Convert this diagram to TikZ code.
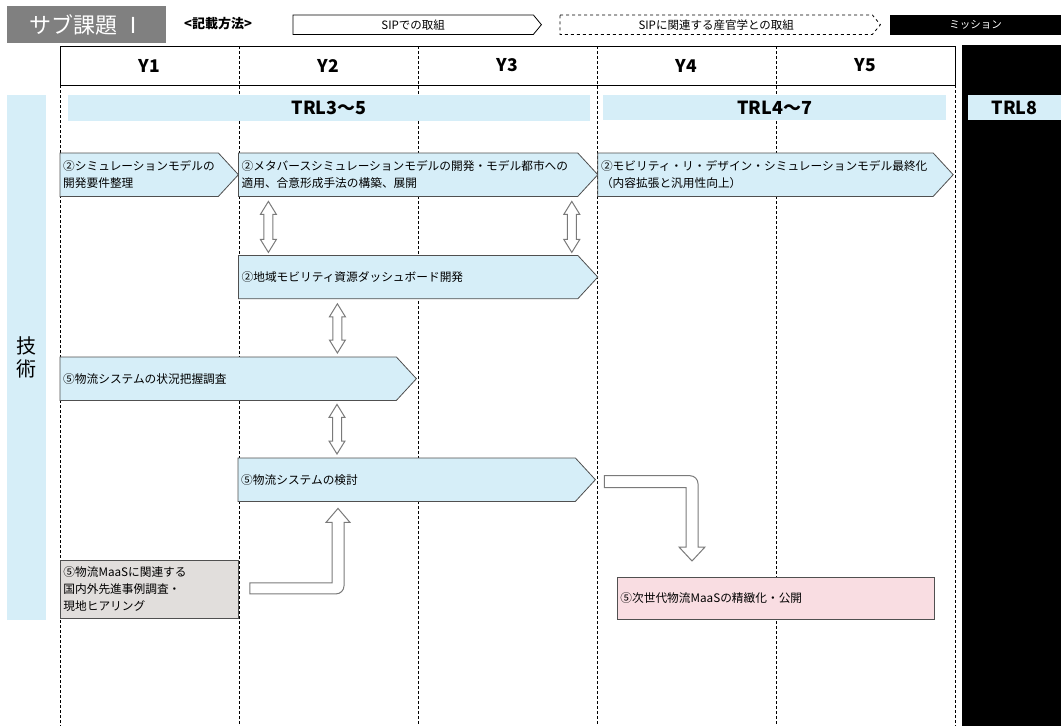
\documentclass[tikz,border=0pt]{standalone}
\usepackage{fontspec}
\setmainfont{Noto Sans CJK JP}
\usetikzlibrary{positioning, calc}

\definecolor{trlblue}{HTML}{D6EEF8}
\definecolor{maasgray}{HTML}{E1DEDC}
\definecolor{pinkbox}{HTML}{F9DDE2}
\definecolor{titlegray}{HTML}{808080}
\definecolor{edgegray}{HTML}{505050}
\definecolor{arrowgray}{HTML}{7A7A7A}

\pgfdeclarelayer{grid}
\pgfdeclarelayer{background}
\pgfsetlayers{grid,background,main}

\tikzset{
  every node/.style={font=\fontsize{11.7}{17}\selectfont, inner sep=0pt},
  stage/.style={rectangle, anchor=north west, text width=#1, minimum height=43pt, inner xsep=3pt, align=left},
  stageline/.style={fill=trlblue, draw=edgegray, line width=0.8pt},
  plainbox/.style={rectangle, anchor=north west, draw=edgegray, line width=0.8pt, inner xsep=3pt, align=left},
  blockarrow/.style={draw=arrowgray, fill=white, line width=1pt},
  gridline/.style={dash pattern=on 3pt off 2pt, line width=0.6pt},
  yearlabel/.style={font=\fontsize{17.5}{20}\selectfont\bfseries},
  trlbar/.style={fill=trlblue, anchor=north west, font=\fontsize{18}{20}\selectfont\bfseries},
  legend/.style={rectangle, anchor=north west, minimum height=19pt, font=\fontsize{11.5}{13}\selectfont},
}

% pentagon behind a node: name, pointer depth
\newcommand\pointed[3][]{%
  \path[stageline,#1] (#2.north west) -- (#2.north east) -- ([xshift=#3]#2.east)
    -- (#2.south east) -- (#2.south west) -- cycle;}

% hollow double arrow: upper tip, lower tip
\newcommand\dblarrow[2]{%
  \draw[blockarrow] let \p1=#1, \p2=#2 in
    (\x1,\y1) -- (\x1+8pt,\y1-13pt) -- (\x1+4.5pt,\y1-13pt) -- (\x1+4.5pt,\y2+13pt)
    -- (\x1+8pt,\y2+13pt) -- (\x1,\y2) -- (\x1-8pt,\y2+13pt) -- (\x1-4.5pt,\y2+13pt)
    -- (\x1-4.5pt,\y1-13pt) -- (\x1-8pt,\y1-13pt) -- cycle;}

% hollow bent arrow going right then up: tail, tip
\newcommand\bentup[2]{%
  \draw[blockarrow] let \p1=#1, \p2=#2 in
    (\x1,\y1+5.5pt) -- (\x2-6pt,\y1+5.5pt) -- (\x2-6pt,\y2-14pt) -- (\x2-12pt,\y2-14pt)
    -- (\x2,\y2) -- (\x2+12pt,\y2-14pt) -- (\x2+6pt,\y2-14pt) -- (\x2+6pt,\y1+2.5pt)
    arc(0:-90:8pt) -- (\x1,\y1-5.5pt) -- cycle;}

% hollow bent arrow going right then down: tail, tip
\newcommand\bentdown[2]{%
  \draw[blockarrow] let \p1=#1, \p2=#2 in
    (\x1,\y1+6pt) -- (\x2-2pt,\y1+6pt) arc(90:0:8pt) -- (\x2+6pt,\y2+14pt)
    -- (\x2+13pt,\y2+14pt) -- (\x2,\y2) -- (\x2-13pt,\y2+14pt) -- (\x2-6pt,\y2+14pt)
    -- (\x2-6pt,\y1-6pt) -- (\x1,\y1-6pt) -- cycle;}

\begin{document}
\begin{tikzpicture}[x=1pt, y=-1pt]
  \useasboundingbox (0,0) rectangle (1061,726);

  % title and legend
  \node[fill=titlegray, text=white, anchor=north west, minimum width=159pt, minimum height=37pt,
        font=\fontsize{22}{24}\selectfont] (title) at (7,6) {サブ課題 Ⅰ};
  \node[font=\fontsize{13}{15}\selectfont\bfseries] (method) at (218,24) {<記載方法>};
  \node[legend, minimum width=240pt] (legsip) at (293,15) {SIPでの取組};
  \node[legend, minimum width=312pt] (legrel) at (560,15) {SIPに関連する産官学との取組};
  \node[legend, fill=black, text=white, minimum width=171pt, minimum height=20pt,
        font=\fontsize{10.5}{12}\selectfont] (mission) at (890,15) {ミッション};

  % year grid
  \begin{pgfonlayer}{grid}
    \fill[black] (962,45) rectangle (1061,726);
    \foreach \gx in {239,418,597,776}
      \draw[gridline] (\gx,46) -- (\gx,726);
    \foreach \gx in {60,955}
      \draw[gridline] (\gx,85) -- (\gx,726);
    \draw[line width=0.8pt] (60,46) rectangle (955,85);
  \end{pgfonlayer}
  \foreach \i in {1,...,5}
    \node[yearlabel] (y\i) at ({60+179*(\i-1)+89.5},65.5) {Y\i};

  % TRL bars
  \node[trlbar, minimum width=522pt, minimum height=26pt] (trl35) at (68,95) {TRL3～5};
  \node[trlbar, minimum width=343pt, minimum height=25pt] (trl47) at (603,95) {TRL4～7};
  \node[trlbar, minimum width=93pt, minimum height=25pt] (trl8) at (968,95) {TRL8};
  \node[fill=trlblue, anchor=north west, minimum width=39pt, minimum height=525pt, align=center,
        font=\fontsize{20}{23}\selectfont] (tech) at (7,95) {技\\術};

  % stages
  \node[stage=152pt] (req) at (60,153) {②シミュレーションモデルの\\開発要件整理};
  \node[stage=333pt, right=20pt of req.north east, anchor=north west] (meta)
    {②メタバースシミュレーションモデルの開発・モデル都市への\\適用、合意形成手法の構築、展開};
  \node[stage=329pt, right=20pt of meta.north east, anchor=north west] (final)
    {②モビリティ・リ・デザイン・シミュレーションモデル最終化\\（内容拡張と汎用性向上）};
  \node[stage=333pt, below=59pt of meta.south west, anchor=north west] (dash)
    {②地域モビリティ資源ダッシュボード開発};
  \node[stage=330pt] (survey) at (60,357) {⑤物流システムの状況把握調査};
  \node[stage=331pt] (kento) at (238,458) {⑤物流システムの検討};
  \node[plainbox, fill=maasgray, text width=172pt, minimum height=58pt] (maas) at (60,560)
    {⑤物流MaaSに関連する\\国内外先進事例調査・\\現地ヒアリング};
  \node[plainbox, fill=pinkbox, text width=311pt, minimum height=42pt] (nextgen) at (617,577)
    {⑤次世代物流MaaSの精緻化・公開};

  \begin{pgfonlayer}{background}
    \foreach \n in {req,meta,final,dash,survey,kento}
      \pointed{\n}{20pt};
    \pointed[fill=white, draw=black]{legsip}{8pt}
    \pointed[fill=white, draw=black, dashed]{legrel}{8pt}
  \end{pgfonlayer}

  % links
  \dblarrow{($(meta.south west)+(30,5)$)}{($(dash.north west)+(30,-3)$)}
  \dblarrow{($(meta.south east)+(-6,5)$)}{($(dash.north east)+(-6,-3)$)}
  \dblarrow{($(dash.south west)+(99,5)$)}{($(survey.north west)+(277,-4)$)}
  \dblarrow{($(survey.south west)+(277,4)$)}{($(kento.north west)+(99,-4)$)}
  \bentup{($(maas.east)+(11,-1)$)}{($(kento.south west)+(100,7)$)}
  \bentdown{($(kento.east)+(29,2)$)}{($(nextgen.north west)+(75,-16)$)}
\end{tikzpicture}
\end{document}
